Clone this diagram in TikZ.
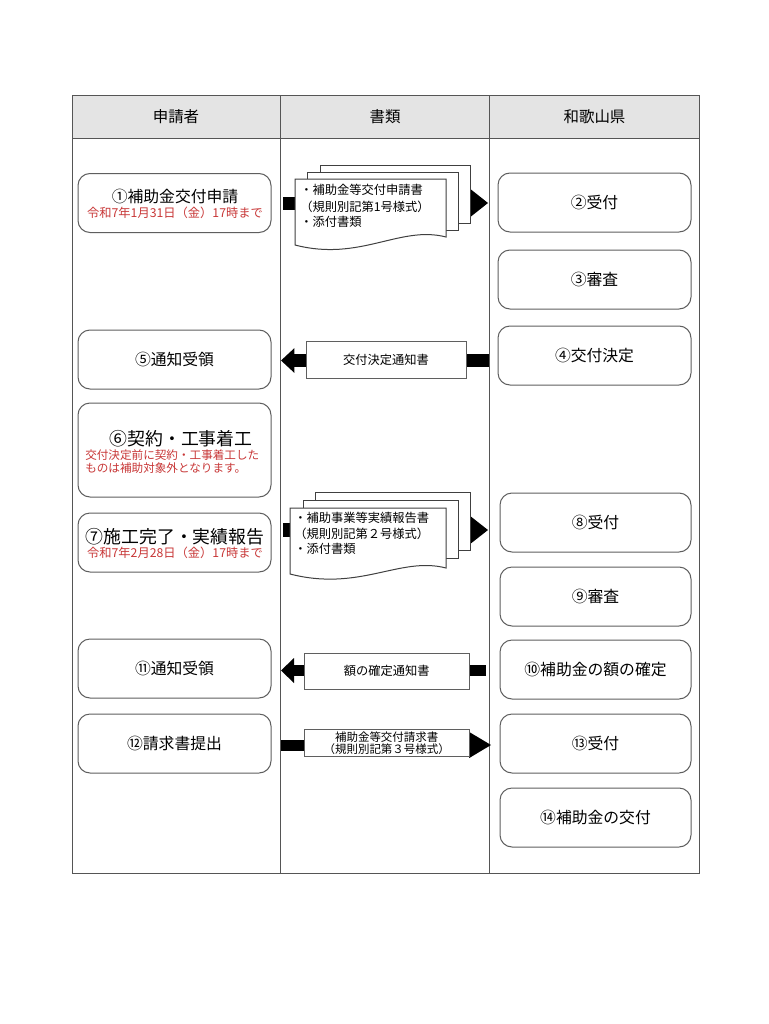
\documentclass[tikz,border=0pt]{standalone}
\usepackage{fontspec}
\setmainfont{Noto Sans CJK JP}
\usetikzlibrary{arrows.meta}
\definecolor{redtxt}{RGB}{200,55,55}
\definecolor{hdr}{RGB}{228,228,228}
\definecolor{tabln}{RGB}{85,85,85}
\definecolor{boxln}{RGB}{95,95,95}
\tikzset{
  boxL/.style={draw=boxln, line width=0.75pt, rounded corners=9pt, fill=white,
    minimum width=144.75pt, minimum height=44.25pt, inner sep=0pt},
  boxR/.style={draw=boxln, line width=0.75pt, rounded corners=9pt, fill=white,
    minimum width=143.25pt, minimum height=44.25pt, inner sep=0pt},
  mtxt/.style={inner sep=0pt, font=\fontsize{11.85}{14}\selectfont},
  btxt/.style={inner sep=0pt, font=\fontsize{13.4}{16}\selectfont},
  rtxt/.style={inner sep=0pt, text=redtxt, font=\fontsize{9.2}{12}\selectfont},
  rstxt/.style={inner sep=0pt, text=redtxt, font=\fontsize{8.7}{11}\selectfont},
  htxt/.style={inner sep=0pt, font=\fontsize{11.6}{13}\selectfont},
  dtxt/.style={inner sep=0pt, anchor=west, font=\fontsize{9.2}{11}\selectfont},
  note/.style={draw=boxln, line width=0.75pt, fill=white, inner sep=0pt,
    font=\fontsize{9.2}{11}\selectfont},
  page/.style={draw=black!75, line width=0.75pt, fill=white},
  blk/.style n args={3}{draw=black, line width=#1,
    -{Triangle[width=#2,length=#3,line width=0pt]}}
}
\begin{document}
\begin{tikzpicture}[x=0.75pt,y=-0.75pt]
\useasboundingbox (0,0) rectangle (768,1024);
\fill[white] (0,0) rectangle (768,1024);

% table
\draw[tabln, line width=0.75pt, fill=hdr] (72,96) rectangle (699,138);
\draw[tabln, line width=0.75pt] (72,138) -- (72,873) -- (699,873) -- (699,138);
\draw[tabln, line width=0.75pt] (280.5,96) -- (280.5,873);
\draw[tabln, line width=0.75pt] (489.5,96) -- (489.5,873);
\node[htxt] (h1) at (176,117) {申請者};
\node[htxt] (h2) at (385,117) {書類};
\node[htxt] (h3) at (594.5,117) {和歌山県};

% arrows (drawn first, documents on top)
\coordinate (a1s) at (283,203);  \coordinate (a1e) at (488,203);
\coordinate (a2s) at (283,530);  \coordinate (a2e) at (488,530);
\coordinate (a3s) at (489,360.5);\coordinate (a3e) at (281,360.5);
\coordinate (a4s) at (486,670.5);\coordinate (a4e) at (281,670.5);
\coordinate (a5s) at (281,745);  \coordinate (a5e) at (491,745);
\draw[blk={9.75pt}{21.4pt}{13.5pt}] (a1s) -- (a1e);
\draw[blk={10pt}{21.2pt}{13.5pt}] (a2s) -- (a2e);
\draw[blk={9.3pt}{18.5pt}{10pt}] (a3s) -- (a3e);
\draw[blk={8.8pt}{18.75pt}{9.75pt}] (a4s) -- (a4e);
\draw[blk={8.25pt}{19.7pt}{16.5pt}] (a5s) -- (a5e);

% document stack 1
\draw[page] (320,165) rectangle (470,223);
\draw[page] (307.5,172) rectangle (458,230);
\draw[page] (295,245) -- (295,179) -- (446,179) -- (446,237)
  .. controls (400,225) and (360,262) .. (295,245) -- cycle;
\node[dtxt] (d1a) at (300,190) {・補助金等交付申請書};
\node[dtxt] (d1b) at (300,207) {（規則別記第1号様式）};
\node[dtxt] (d1c) at (300,222) {・添付書類};

% document stack 2
\draw[page] (315,492) rectangle (470,550);
\draw[page] (303,500) rectangle (458,558);
\draw[page] (290,574) -- (290,508) -- (446,508) -- (446,568)
  .. controls (400,556) and (360,592) .. (290,574) -- cycle;
\node[dtxt] (d2a) at (294,518) {・補助事業等実績報告書};
\node[dtxt] (d2b) at (294,534) {（規則別記第２号様式）};
\node[dtxt] (d2c) at (294,549) {・添付書類};

% notice boxes
\node[note, minimum width=120pt, minimum height=27.45pt] (nt1) at (386,360) {交付決定通知書};
\node[note, minimum width=123.75pt, minimum height=27pt] (nt2) at (386.8,671.3) {額の確定通知書};
\node[note, minimum width=124pt, minimum height=20.5pt] (nt3) at (386.7,743) {};
\node[inner sep=0pt, font=\fontsize{8.6}{10}\selectfont] (nt3a) at (386.7,737.5) {補助金等交付請求書};
\node[inner sep=0pt, font=\fontsize{8.6}{10}\selectfont] (nt3b) at (386.7,749.5) {（規則別記第３号様式）};

% left column
\node[boxL] (n1) at (174.5,203) {};
\node[mtxt] (n1a) at (175,196.7) {①補助金交付申請};
\node[rtxt] (n1b) at (175,213.3) {令和7年1月31日（金）17時まで};

\node[boxL] (n5) at (174.5,359.5) {};
\node[mtxt] (n5a) at (174.5,359.5) {⑤通知受領};

\node[boxL, minimum height=70.5pt] (n6) at (174.5,450) {};
\node[btxt] (n6a) at (181,438.3) {⑥契約・工事着工};
\node[rstxt, anchor=west] (n6b) at (85,455) {交付決定前に契約・工事着工した};
\node[rstxt, anchor=west] (n6c) at (85,467.7) {ものは補助対象外となります。};

\node[boxL] (n7) at (174.5,542.5) {};
\node[btxt] (n7a) at (175,536.7) {⑦施工完了・実績報告};
\node[rtxt] (n7b) at (175,553.3) {令和7年2月28日（金）17時まで};

\node[boxL] (n11) at (174.5,668.5) {};
\node[mtxt] (n11a) at (174.5,668.5) {⑪通知受領};

\node[boxL] (n12) at (174.5,743.5) {};
\node[mtxt] (n12a) at (174.5,743.5) {⑫請求書提出};

% right column
\node[boxL] (n2) at (594.5,202.5) {};
\node[mtxt] (n2a) at (594.5,202.5) {②受付};
\node[boxL] (n3) at (594.5,279.5) {};
\node[mtxt] (n3a) at (594.5,279.5) {③審査};
\node[boxL] (n4) at (594.5,355.5) {};
\node[mtxt] (n4a) at (594.5,355.5) {④交付決定};

\node[boxR] (n8) at (595.5,522.5) {};
\node[mtxt] (n8a) at (595.5,522.5) {⑧受付};
\node[boxR] (n9) at (595.5,596.5) {};
\node[mtxt] (n9a) at (595.5,596.5) {⑨審査};
\node[boxR] (n10) at (595.5,669.5) {};
\node[mtxt] (n10a) at (595.5,669.5) {⑩補助金の額の確定};
\node[boxR] (n13) at (595.5,743.5) {};
\node[mtxt] (n13a) at (595.5,743.5) {⑬受付};
\node[boxR] (n14) at (595.5,817.5) {};
\node[mtxt] (n14a) at (595.5,817.5) {⑭補助金の交付};
\end{tikzpicture}
\end{document}
